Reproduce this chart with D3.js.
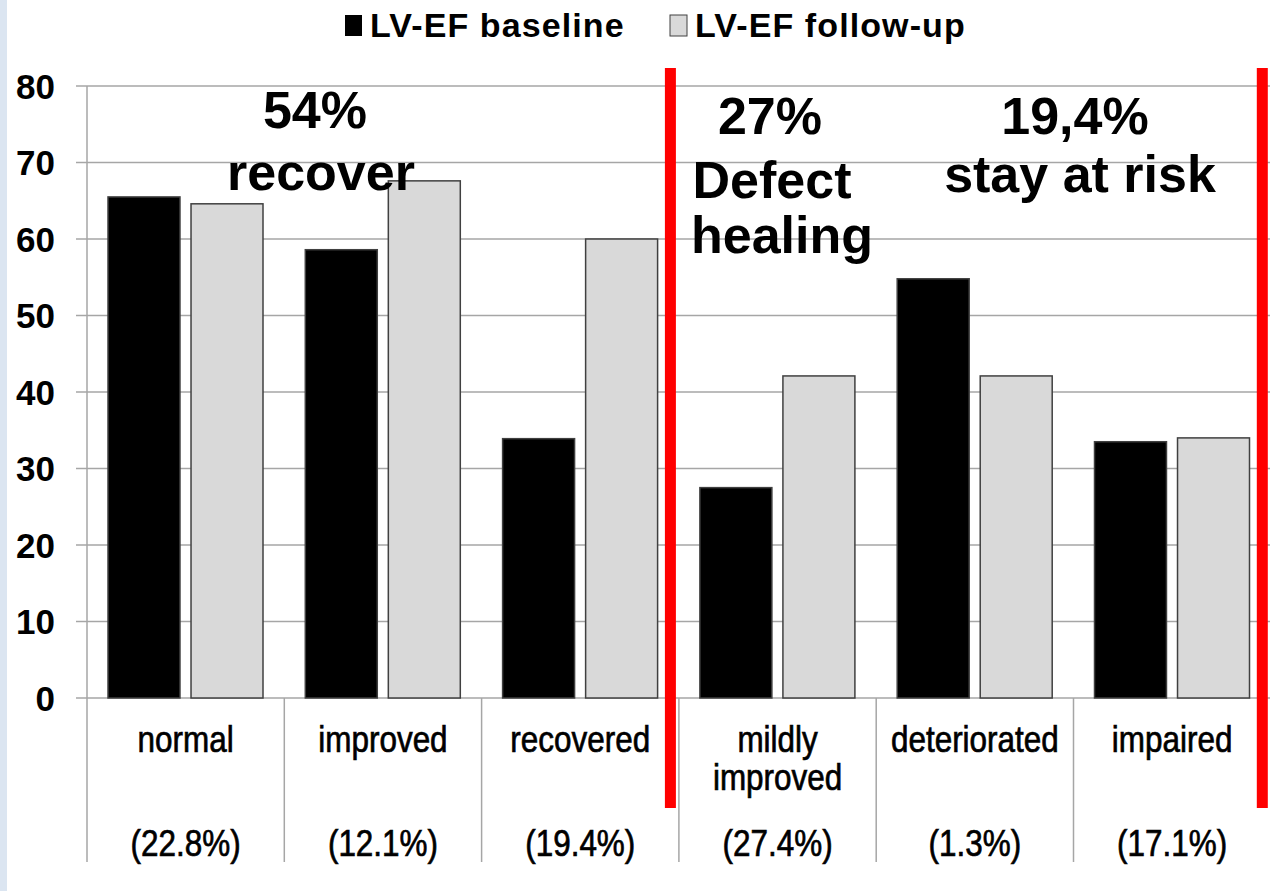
<!DOCTYPE html>
<html><head><meta charset="utf-8">
<script src="https://cdn.jsdelivr.net/npm/d3@7/dist/d3.min.js"></script>
<style>
html,body{margin:0;padding:0;background:#fff;}
svg{display:block;font-family:"Liberation Sans",Arial,Helvetica,sans-serif;}
</style></head><body>
<svg id="chart" width="1270" height="891"></svg>
<script>
const categories = ["normal","improved","recovered","mildly improved","deteriorated","impaired"];
const shares = ["(22.8%)","(12.1%)","(19.4%)","(27.4%)","(1.3%)","(17.1%)"];
const seriesNames = ["LV-EF baseline","LV-EF follow-up"];
const baseline = [65.5, 58.6, 33.9, 27.5, 54.8, 33.5];
const followUp = [64.6, 67.6, 60.0, 42.1, 42.1, 34.0];
const yTicks = [0,10,20,30,40,50,60,70,80];
const groups = [
  {lines:["54%","recover"], from:0, to:3},
  {lines:["27%","Defect","healing"], from:3, to:4},
  {lines:["19,4%","stay at risk"], from:4, to:6}
];
const dividers = [3, 6]; // red lines before these category indices

(function(){
const svg = d3.select("#chart");
const colors = ["#000000","#d9d9d9"];

svg.append("rect").attr("x",0).attr("y",0).attr("width",7).attr("height",891).attr("fill","#dbe5f1");

const plotLeft = 87, plotTop = 86, plotBottom = 698;
const step = 197.3;
const x = d3.scaleBand().domain(categories).range([plotLeft, plotLeft + step*categories.length]).padding(0);
const xs = d3.scaleBand().domain(seriesNames).range([21, 176]).paddingInner(0.133);
const y = d3.scaleLinear().domain([0,80]).range([plotBottom, plotTop]);

svg.append("g").selectAll("line").data(yTicks).join("line")
  .attr("x1", 76).attr("x2", 1270)
  .attr("y1", d => y(d)).attr("y2", d => y(d))
  .attr("stroke", "#a6a6a6").attr("stroke-width", 1.5);

svg.append("line").attr("x1", plotLeft).attr("x2", plotLeft).attr("y1", plotTop).attr("y2", 862)
  .attr("stroke", "#a6a6a6").attr("stroke-width", 1.5);

svg.append("g").selectAll("text").data(yTicks).join("text")
  .attr("x", 55).attr("y", d => y(d)).attr("dy", "0.36em")
  .attr("text-anchor", "end").attr("font-size", 35).attr("font-weight", "bold")
  .attr("fill", "#000").text(d => d);

const bounds = d3.range(1, categories.length).map(i => x(categories[i]));
svg.append("g").selectAll("line").data(bounds).join("line")
  .attr("x1", d => d).attr("x2", d => d).attr("y1", plotBottom).attr("y2", 862)
  .attr("stroke", "#a6a6a6").attr("stroke-width", 1.5);

const seriesData = [baseline, followUp];
seriesData.forEach((vals, si) => {
  svg.append("g").selectAll("rect").data(vals).join("rect")
    .attr("x", (d,i) => x(categories[i]) + xs(seriesNames[si]))
    .attr("y", d => y(d))
    .attr("width", xs.bandwidth())
    .attr("height", d => y(0) - y(d))
    .attr("fill", colors[si])
    .attr("stroke", "#404040").attr("stroke-width", 1.5);
});

const catG = svg.append("g");
categories.forEach((c, i) => {
  const cx = x(c) + x.bandwidth()/2;
  const words = c === "mildly improved" ? ["mildly","improved"] : [c];
  words.forEach((w, j) => {
    catG.append("text")
      .attr("transform", `translate(${cx},${752 + j*38}) scale(0.85,1)`)
      .attr("text-anchor", "middle").attr("font-size", 37).attr("fill", "#000")
      .attr("stroke", "#000").attr("stroke-width", 0.7)
      .text(w);
  });
  catG.append("text")
    .attr("transform", `translate(${cx},${856}) scale(0.85,1)`)
    .attr("text-anchor", "middle").attr("font-size", 37).attr("fill", "#000")
    .attr("stroke", "#000").attr("stroke-width", 0.7)
    .text(shares[i]);
});

svg.append("g").selectAll("rect").data(dividers).join("rect")
  .attr("x", d => x.range()[0] + d*x.step() - 14)
  .attr("y", 68).attr("width", 11).attr("height", 740)
  .attr("fill", "#ff0000");

const annG = svg.append("g");
const annPos = [
  {cx:[315,321], by:[128,190]},
  {cx:[770,772,782], by:[134,198,253]},
  {cx:[1075,1080], by:[134,192]}
];
groups.forEach((g, gi) => {
  g.lines.forEach((t, li) => {
    annG.append("text")
      .attr("x", annPos[gi].cx[li]).attr("y", annPos[gi].by[li])
      .attr("text-anchor", "middle").attr("font-size", 52).attr("font-weight", "bold")
      .attr("fill", "#000").text(t);
  });
});

const leg = svg.append("g");
const legX = [345, 670];
seriesNames.forEach((s, i) => {
  leg.append("rect").attr("x", legX[i]).attr("y", 15).attr("width", 17).attr("height", 21)
    .attr("fill", colors[i]).attr("stroke", i ? "#404040" : "none").attr("stroke-width", 1);
  leg.append("text").attr("x", legX[i] + 25).attr("y", 37)
    .attr("font-size", 34).attr("font-weight", "bold").attr("fill", "#000")
    .attr("letter-spacing", 1.1)
    .text(s);
});
})();
</script>
</body></html>
